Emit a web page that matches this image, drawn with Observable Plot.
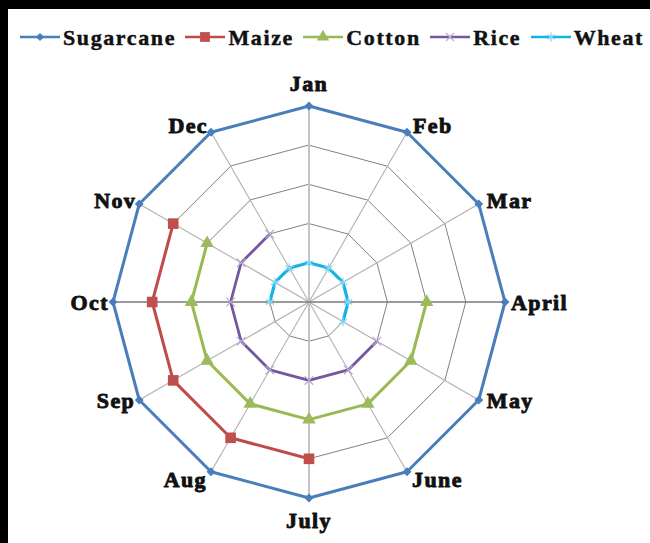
<!DOCTYPE html>
<html>
<head>
<meta charset="utf-8">
<script src="https://cdn.jsdelivr.net/npm/d3@7"></script>
<script src="https://cdn.jsdelivr.net/npm/@observablehq/plot@0.6"></script>
<style>
  html, body { margin: 0; padding: 0; background: #000; }
  #wrap { position: absolute; left: 8px; top: 9px; width: 642px; height: 534px; background: #fff; overflow: hidden; }
  #legend { height: 56px; box-sizing: border-box; padding: 16px 6px 0 12px; display: flex; justify-content: space-between; align-items: flex-start;
            font-family: "Liberation Serif", "Times New Roman", serif; font-weight: bold; font-size: 22px; letter-spacing: 1.6px; color: #111;
            -webkit-text-stroke: 0.45px #111; }
  .item { display: flex; align-items: center; line-height: 26px; }
  .item svg { margin-right: 3px; margin-top: -2px; }
  #chart svg { display: block; }
</style>
</head>
<body>
<div id="wrap">
  <div id="legend"></div>
  <div id="chart"></div>
</div>
<script>
// ---- data ----
const months = ["Jan", "Feb", "Mar", "April", "May", "June", "July", "Aug", "Sep", "Oct", "Nov", "Dec"];
const seriesNames = ["Sugarcane", "Maize", "Cotton", "Rice", "Wheat"];
const sugarcane = [5, 5, 5, 5, 5, 5, 5, 5, 5, 5, 5, 5];
const maize     = [null, null, null, null, null, null, 4, 4, 4, 4, 4, null];
const cotton    = [null, null, null, 3, 3, 3, 3, 3, 3, 3, 3, null];
const rice      = [null, null, null, null, 2, 2, 2, 2, 2, 2, 2, 2];
const wheat     = [1, 1, 1, 1, 1, null, null, null, null, 1, 1, 1];
const ringLevels = [1, 2, 3, 4, 5];

// ---- styles ----
const seriesValues = [sugarcane, maize, cotton, rice, wheat];
const colors = ["#4A7EBB", "#BE4B48", "#98B954", "#7457A0", "#12B3E6"];
const markerColors = ["#4A7EBB", "#C0504D", "#9BBB59", "#B9AAD2", "#8ED5EE"];
const lineWidths = [3, 3, 3, 2.8, 3.2];
const symbols = ["diamond2", "square", "triangle", "times", "asterisk"];
const symbolFilled = [true, true, true, false, false];
const symbolR = [4, 6, 5, 4, 4.5];
const d3Symbols = [d3.symbolDiamond2, d3.symbolSquare, d3.symbolTriangle, d3.symbolTimes, d3.symbolAsterisk];

const maxLevel = d3.max(ringLevels);
const n = months.length;
const ang = i => i * 2 * Math.PI / n;
const px = (v, i) => v == null ? NaN : v * Math.sin(ang(i));
const py = (v, i) => v == null ? NaN : v * Math.cos(ang(i));

// ---- legend ----
const legend = d3.select("#legend");
seriesNames.forEach((name, k) => {
  const item = legend.append("div").attr("class", "item");
  const svg = item.append("svg").attr("width", 40).attr("height", 14);
  svg.append("line").attr("x1", 0).attr("x2", 40).attr("y1", 7).attr("y2", 7)
     .attr("stroke", colors[k]).attr("stroke-width", 2.6);
  const sz = Math.PI * symbolR[k] * symbolR[k] * 0.85;
  const p = svg.append("path").attr("d", d3.symbol(d3Symbols[k], sz)()).attr("transform", "translate(20,7)");
  if (symbolFilled[k]) p.attr("fill", markerColors[k]);
  else p.attr("fill", "none").attr("stroke", markerColors[k]).attr("stroke-width", 1.3);
  item.append("span").text(name);
});

// ---- geometry data built from the arrays ----
const monthIdx = d3.range(n);
const ringPts = ringLevels.flatMap(L => monthIdx.map(i => ({L, i})));
const seriesPaths = seriesNames.map((s, k) =>
  d3.range(n + 1).map(j => ({i: j % n, v: seriesValues[k][j % n]})));
const seriesDots = seriesNames.map((s, k) =>
  monthIdx.map(i => ({i, v: seriesValues[k][i]})).filter(d => d.v != null));

const labelStyle = {
  0: {textAnchor: "middle", dx: 0, dy: -22},
  1: {textAnchor: "start", dx: 6, dy: -6},
  2: {textAnchor: "start", dx: 8, dy: -3},
  3: {textAnchor: "start", dx: 6, dy: 1},
  4: {textAnchor: "start", dx: 8, dy: 1},
  5: {textAnchor: "start", dx: 5, dy: 8},
  6: {textAnchor: "middle", dx: 0, dy: 23},
  7: {textAnchor: "end", dx: -4, dy: 8},
  8: {textAnchor: "end", dx: -4, dy: 1},
  9: {textAnchor: "end", dx: -4, dy: 1},
  10: {textAnchor: "end", dx: -3, dy: -3},
  11: {textAnchor: "end", dx: -3, dy: -6}
};

const marks = [];
// rings
marks.push(Plot.line(ringPts, {x: d => px(d.L, d.i), y: d => py(d.L, d.i), z: "L", curve: "linear-closed",
  stroke: "#808080", strokeWidth: 1}));
// spokes
marks.push(Plot.link(monthIdx.filter(i => i % 3 !== 0), {x1: 0, y1: 0, x2: i => px(maxLevel, i), y2: i => py(maxLevel, i),
  stroke: "#b0b0b0", strokeWidth: 1.1}));
marks.push(Plot.link(monthIdx.filter(i => i % 6 === 0), {x1: 0, y1: 0, x2: i => px(maxLevel, i), y2: i => py(maxLevel, i),
  stroke: "#c4c4c4", strokeWidth: 2}));
marks.push(Plot.link(monthIdx.filter(i => i % 6 === 3), {x1: 0, y1: 0, x2: i => px(maxLevel, i), y2: i => py(maxLevel, i),
  stroke: "#7a7a7a", strokeWidth: 1.4}));
// series
seriesNames.forEach((s, k) => {
  marks.push(Plot.line(seriesPaths[k], {x: d => px(d.v, d.i), y: d => py(d.v, d.i),
    stroke: colors[k], strokeWidth: lineWidths[k], strokeLinejoin: "round"}));
  const dotOpts = {x: d => px(d.v, d.i), y: d => py(d.v, d.i), symbol: symbols[k], r: symbolR[k]};
  if (symbolFilled[k]) { dotOpts.fill = markerColors[k]; dotOpts.stroke = "none"; }
  else { dotOpts.fill = "none"; dotOpts.stroke = markerColors[k]; dotOpts.strokeWidth = 1.2; }
  marks.push(Plot.dot(seriesDots[k], dotOpts));
});
// month labels
monthIdx.forEach(i => {
  marks.push(Plot.text([i], {x: j => px(maxLevel, j), y: j => py(maxLevel, j), text: j => months[j],
    fontFamily: "Liberation Serif", fontWeight: "bold", fontSize: 22, fill: "#111",
    stroke: "#111", strokeWidth: 0.9, ...labelStyle[i]}));
});

const plot = Plot.plot({
  width: 642,
  height: 478,
  margin: 0,
  x: {domain: [-maxLevel, maxLevel], range: [300.5 - 196, 300.5 + 196], axis: null},
  y: {domain: [-maxLevel, maxLevel], range: [236.5 + 196, 236.5 - 196], axis: null},
  style: {background: "#fff", letterSpacing: "1.4px", overflow: "visible"},
  marks
});
document.getElementById("chart").appendChild(plot);
</script>
</body>
</html>
